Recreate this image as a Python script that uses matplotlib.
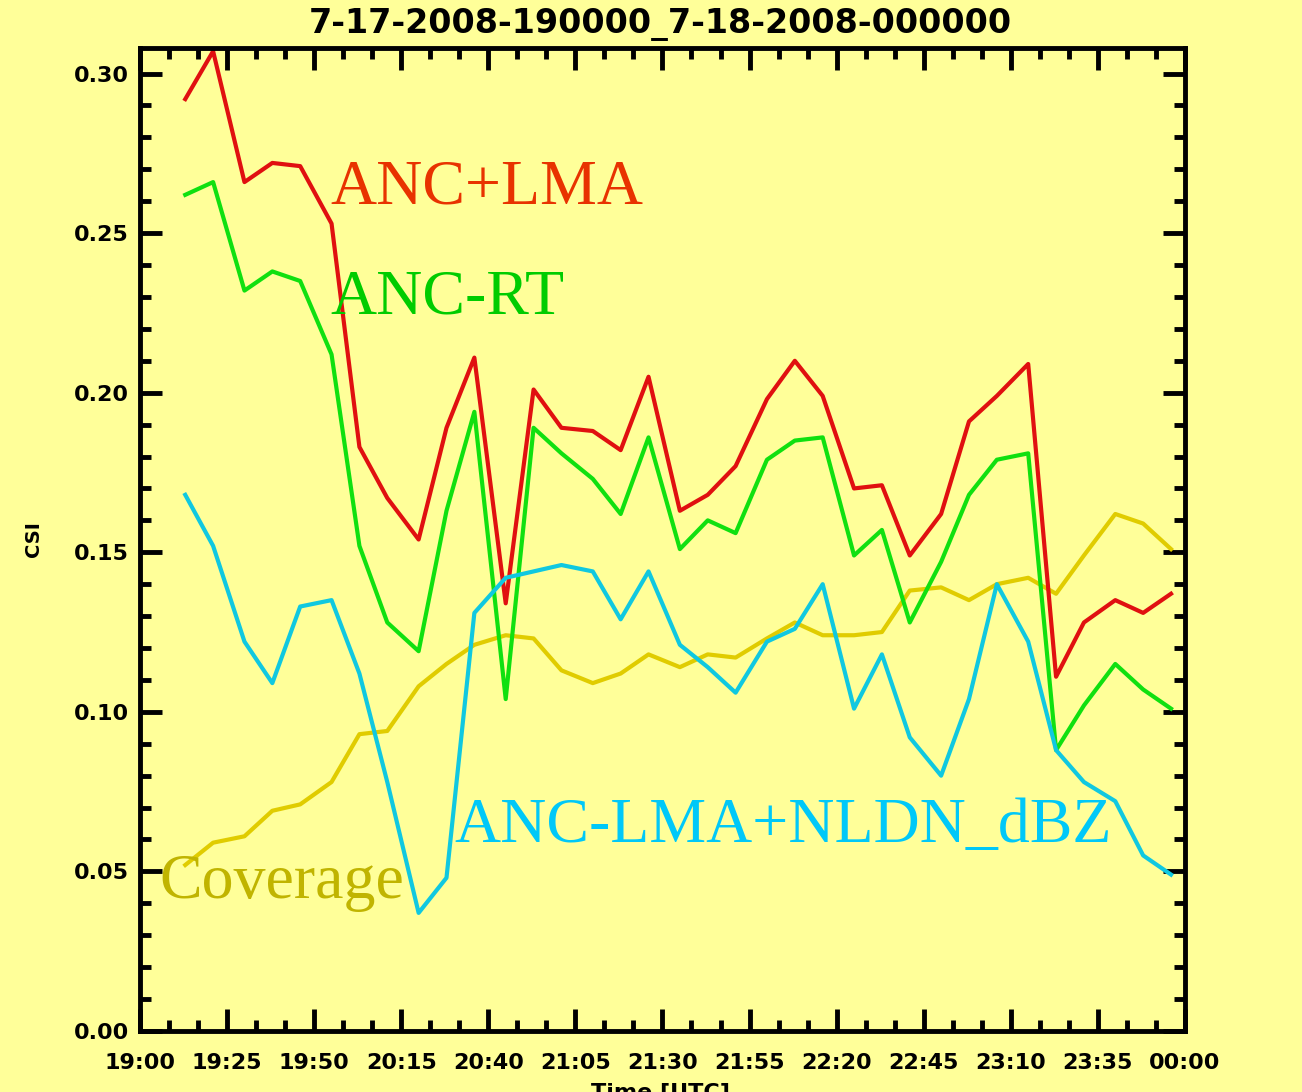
import numpy as np
import matplotlib
matplotlib.use("Agg")
import matplotlib.pyplot as plt

# minutes after 19:00 UTC
minutes = [13, 21, 30, 38, 46, 55, 63, 71, 80, 88, 96, 105, 113, 121, 130, 138, 146, 155,
           163, 171, 180, 188, 196, 205, 213, 221, 230, 238, 246, 255, 263, 271, 280, 288, 296]

anc_lma = [0.292, 0.307, 0.266, 0.272, 0.271, 0.253, 0.183, 0.167, 0.154, 0.189, 0.211, 0.134,
           0.201, 0.189, 0.188, 0.182, 0.205, 0.163, 0.168, 0.177, 0.198, 0.210, 0.199, 0.170,
           0.171, 0.149, 0.162, 0.191, 0.199, 0.209, 0.111, 0.128, 0.135, 0.131, 0.137]

anc_rt = [0.262, 0.266, 0.232, 0.238, 0.235, 0.212, 0.152, 0.128, 0.119, 0.163, 0.194, 0.104,
          0.189, 0.181, 0.173, 0.162, 0.186, 0.151, 0.160, 0.156, 0.179, 0.185, 0.186, 0.149,
          0.157, 0.128, 0.147, 0.168, 0.179, 0.181, 0.088, 0.102, 0.115, 0.107, 0.101]

anc_nldn = [0.168, 0.152, 0.122, 0.109, 0.133, 0.135, 0.112, 0.078, 0.037, 0.048, 0.131, 0.142,
            0.144, 0.146, 0.144, 0.129, 0.144, 0.121, 0.114, 0.106, 0.122, 0.126, 0.140, 0.101,
            0.118, 0.092, 0.080, 0.104, 0.140, 0.122, 0.088, 0.078, 0.072, 0.055, 0.049]

coverage = [0.052, 0.059, 0.061, 0.069, 0.071, 0.078, 0.093, 0.094, 0.108, 0.115, 0.121, 0.124,
            0.123, 0.113, 0.109, 0.112, 0.118, 0.114, 0.118, 0.117, 0.123, 0.128, 0.124, 0.124,
            0.125, 0.138, 0.139, 0.135, 0.140, 0.142, 0.137, 0.149, 0.162, 0.159, 0.151]

tick_min = [0, 25, 50, 75, 100, 125, 150, 175, 200, 225, 250, 275, 300]
tick_lbl = ['19:00', '19:25', '19:50', '20:15', '20:40', '21:05', '21:30',
            '21:55', '22:20', '22:45', '23:10', '23:35', '00:00']

bg = '#ffff99'
fig = plt.figure(figsize=(13.02, 10.92), dpi=100, facecolor=bg)
ax = fig.add_axes([0.1075, 0.0559, 0.8026, 0.9001], facecolor=bg)

ax.plot(minutes, coverage, color='#e0cc00', lw=3)
ax.plot(minutes, anc_rt, color='#10e010', lw=3)
ax.plot(minutes, anc_lma, color='#e01010', lw=3)
ax.plot(minutes, anc_nldn, color='#10c8e0', lw=3)

ax.set_xlim(0, 300)
ax.set_ylim(0, 0.308)
ax.set_xticks(tick_min)
ax.set_xticklabels(tick_lbl)
ax.set_xticks(np.arange(0, 301, 25 / 3), minor=True)
ax.set_yticks(np.arange(0, 0.31, 0.05))
ax.set_yticklabels(['%.2f' % v for v in np.arange(0, 0.31, 0.05)])
ax.set_yticks(np.arange(0, 0.305, 0.01), minor=True)

ax.tick_params(which='both', direction='in', top=True, right=True, width=3.5, color='black')
ax.tick_params(which='major', length=16, labelsize=16)
ax.tick_params(axis='x', which='major', pad=16)
ax.tick_params(axis='y', which='major', pad=8)
ax.tick_params(which='minor', length=8)
for lab in ax.get_xticklabels() + ax.get_yticklabels():
    lab.set_fontweight('bold')
for sp in ax.spines.values():
    sp.set_linewidth(3.5)

ax.set_ylabel('CSI', fontsize=14, fontweight='bold', labelpad=22)

serif = 'Liberation Serif'
ax.text(0.182, 0.842, 'ANC+LMA', transform=ax.transAxes, fontsize=46, family=serif, color='#e83200')
ax.text(0.182, 0.730, 'ANC-RT', transform=ax.transAxes, fontsize=46, family=serif, color='#00cc00')
ax.text(0.301, 0.192, 'ANC-LMA+NLDN_dBZ', transform=ax.transAxes, fontsize=46, family=serif, color='#00c8f8')
ax.text(0.019, 0.135, 'Coverage', transform=ax.transAxes, fontsize=46, family=serif, color='#c0b400')

fig.text(0.507, 0.978, '7-17-2008-190000_7-18-2008-000000', ha='center', va='center',
         fontsize=24, fontweight='bold')
fig.text(0.507, 0.009, 'Time [UTC]', ha='center', va='top', fontsize=16, fontweight='bold')

fig.savefig('out.png', dpi=100, facecolor=bg)
